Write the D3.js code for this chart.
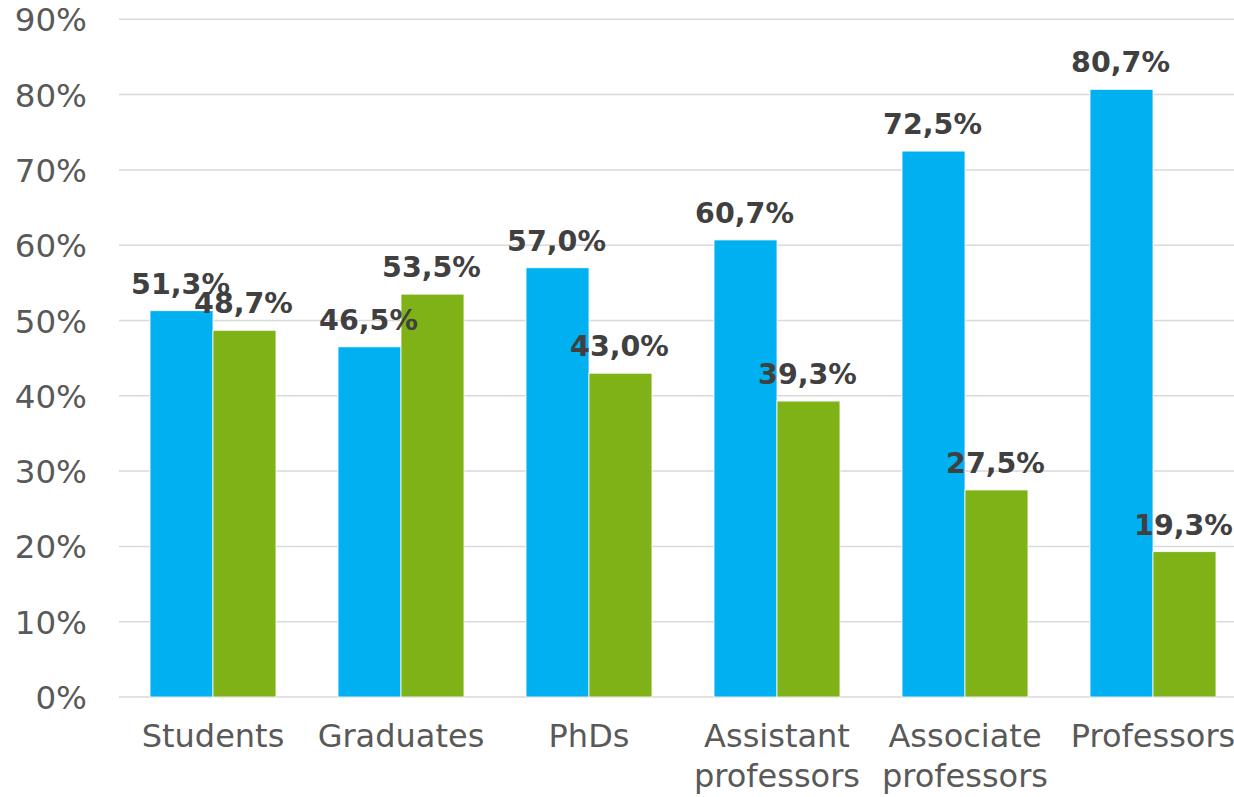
<!DOCTYPE html>
<html>
<head>
<meta charset="utf-8">
<script src="https://cdn.jsdelivr.net/npm/d3@7"></script>
<style>
  body { margin: 0; background: #fff; }
  text { font-family: "DejaVu Sans", Verdana, sans-serif; }
</style>
</head>
<body>
<script>
// chart data
const categories = ['Students', 'Graduates', 'PhDs', 'Assistant professors', 'Associate professors', 'Professors']
const women = [51.3, 46.5, 57.0, 60.7, 72.5, 80.7]
const men = [48.7, 53.5, 43.0, 39.3, 27.5, 19.3]
const yTicks = [0, 10, 20, 30, 40, 50, 60, 70, 80, 90]
const seriesKeys = ['women', 'men']
const colors = { women: '#00b0f0', men: '#7fb217' }

const width = 1234
const height = 797

const svg = d3.select('body')
  .append('svg')
  .attr('width', width)
  .attr('height', height)

// scales
const x0 = d3.scaleBand()
  .domain(categories)
  .range([119, 1247])
  .paddingInner(0.33)
  .paddingOuter(0.165)

const x1 = d3.scaleBand()
  .domain(seriesKeys)
  .range([0, x0.bandwidth()])

const y = d3.scaleLinear()
  .domain([0, 90])
  .range([697, 19.3])

// gridlines
svg.append('g')
  .selectAll('line')
  .data(yTicks)
  .enter()
  .append('line')
  .attr('x1', 119)
  .attr('x2', 1247)
  .attr('y1', d => y(d))
  .attr('y2', d => y(d))
  .attr('stroke', '#d9d9d9')
  .attr('stroke-width', 1.5)

// y tick labels
svg.append('g')
  .selectAll('text')
  .data(yTicks)
  .enter()
  .append('text')
  .attr('x', 87)
  .attr('y', d => y(d) + 12)
  .attr('text-anchor', 'end')
  .attr('font-size', 32.5)
  .attr('fill', '#595959')
  .text(d => d + '%')

// bars
const rows = categories.map((c, i) => ({ cat: c, women: women[i], men: men[i] }))

const groups = svg.append('g')
  .selectAll('g')
  .data(rows)
  .enter()
  .append('g')
  .attr('transform', d => `translate(${x0(d.cat)},0)`)

groups.selectAll('rect')
  .data(d => seriesKeys.map(k => ({ key: k, value: d[k] })))
  .enter()
  .append('rect')
  .attr('x', d => x1(d.key))
  .attr('y', d => y(d.value))
  .attr('width', x1.bandwidth())
  .attr('height', d => y(0) - y(d.value))
  .attr('fill', d => colors[d.key])
  .attr('stroke', '#ffffff')
  .attr('stroke-width', 0.8)

// data labels
const fmt = v => v.toFixed(1).replace('.', ',') + '%'

groups.selectAll('text.lbl')
  .data(d => seriesKeys.map(k => ({ key: k, value: d[k] })))
  .enter()
  .append('text')
  .attr('class', 'lbl')
  .attr('x', d => x1(d.key) + x1.bandwidth() / 2 - 1)
  .attr('y', d => y(d.value) - 17)
  .attr('text-anchor', 'middle')
  .attr('font-size', 28.5)
  .attr('font-weight', 'bold')
  .attr('fill', '#404040')
  .text(d => fmt(d.value))

// category labels
svg.append('g')
  .selectAll('text')
  .data(categories)
  .enter()
  .append('text')
  .attr('x', d => x0(d) + x0.bandwidth() / 2)
  .attr('y', 747)
  .attr('text-anchor', 'middle')
  .attr('font-size', 32)
  .attr('fill', '#595959')
  .each(function (d) {
    const words = d.split(' ')
    const el = d3.select(this)
    words.forEach((w, i) => {
      el.append('tspan')
        .attr('x', x0(d) + x0.bandwidth() / 2)
        .attr('dy', i === 0 ? 0 : 40)
        .text(w)
    })
  })
</script>
</body>
</html>
